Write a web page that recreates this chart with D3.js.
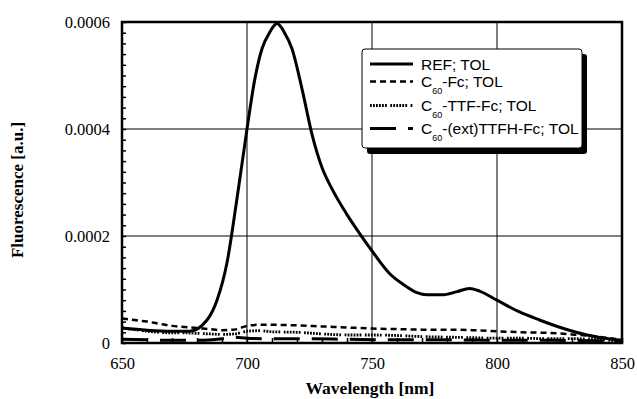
<!DOCTYPE html>
<html>
<head>
<meta charset="utf-8">
<script src="https://cdn.jsdelivr.net/npm/d3@7"></script>
<style>
  body { margin: 0; background: #fff; }
  svg { display: block; }
</style>
</head>
<body>
<svg id="chart" width="637" height="399"></svg>
<script>
// wavelength [nm] / fluorescence [a.u.]
const refWl = [650, 660, 670, 677, 684, 688, 692, 696, 700, 703, 706, 709, 712, 715, 718, 722, 726, 730, 734, 740, 745, 750, 757, 763, 768, 772, 778, 784, 789, 793, 800, 809, 817, 826, 836, 846, 850];
const refVal = [0.000028, 0.000024, 0.000022, 0.000022, 0.000043, 0.00008, 0.00015, 0.00027, 0.0004, 0.00049, 0.00055, 0.00058, 0.000597, 0.00058, 0.00055, 0.000475, 0.00039, 0.000328, 0.000288, 0.00024, 0.000205, 0.000172, 0.00013, 0.000108, 0.000094, 0.00009, 0.00009, 0.000096, 0.000102, 0.000097, 0.00008, 0.000058, 0.000043, 0.000028, 0.000015, 0.000007, 0.000005];

const lowWl = [650, 655, 660, 665, 670, 675, 680, 685, 690, 695, 700, 705, 710, 720, 730, 740, 750, 760, 770, 780, 790, 800, 810, 820, 830, 840, 845, 850];
const fcVal = [0.000046, 0.000043, 0.00004, 0.000036, 0.000032, 0.00003, 0.000028, 0.000026, 0.000024, 0.000025, 0.000032, 0.000034, 0.000034, 0.000033, 0.000031, 0.000029, 0.000027, 0.000026, 0.000025, 0.000025, 0.000024, 0.000022, 0.00002, 0.000019, 0.000016, 0.000012, 0.000009, 0.000006];
const ttfVal = [0.000028, 0.000025, 0.000022, 0.00002, 0.000019, 0.000019, 0.000018, 0.000017, 0.000016, 0.000017, 0.000022, 0.000023, 0.000021, 0.00002, 0.000017, 0.000015, 0.000015, 0.000014, 0.000012, 0.000011, 0.00001, 0.000009, 0.000009, 0.000008, 0.000008, 0.000007, 0.000005, 0.000003];

const extWl = [650, 660, 670, 680, 690, 695, 700, 710, 720, 740, 760, 780, 800, 820, 840, 850];
const extVal = [0.000007, 0.000006, 0.000005, 0.000005, 0.000008, 0.000011, 0.000009, 0.000008, 0.000008, 0.000007, 0.000006, 0.000006, 0.000005, 0.000005, 0.000004, 0.000003];

const xTicks = [650, 700, 750, 800, 850];
const yTicks = [0, 0.0002, 0.0004, 0.0006];
const yTickLabels = ["0", "0.0002", "0.0004", "0.0006"];

const svg = d3.select("#chart");
const plotL = 122, plotR = 622, plotT = 22, plotB = 343;

const x = d3.scaleLinear().domain([650, 850]).range([plotL, plotR]);
const y = d3.scaleLinear().domain([0, 0.0006]).range([plotB, plotT]);

// grid
const grid = svg.append("g").attr("stroke", "#000").attr("stroke-width", 1);
grid.selectAll("line.v")
  .data(xTicks.slice(1, -1))
  .enter().append("line")
    .attr("x1", d => x(d)).attr("x2", d => x(d))
    .attr("y1", plotT).attr("y2", plotB);
grid.selectAll("line.h")
  .data(yTicks.slice(1, -1))
  .enter().append("line")
    .attr("x1", plotL).attr("x2", plotR)
    .attr("y1", d => y(d)).attr("y2", d => y(d));

// minor ticks, inside
svg.append("g")
    .attr("transform", `translate(${plotL},0)`)
    .call(d3.axisLeft(y).tickValues(d3.range(0, 0.00061, 0.00002)).tickSize(-4).tickFormat(""))
    .call(g => g.select(".domain").remove())
    .call(g => g.selectAll("line").attr("stroke-width", 1.5));
svg.append("g")
    .attr("transform", `translate(0,${plotB})`)
    .call(d3.axisBottom(x).tickValues(d3.range(650, 851, 10)).tickSize(-5).tickFormat(""))
    .call(g => g.select(".domain").remove())
    .call(g => g.selectAll("line").attr("stroke-width", 1.5));

// tick labels
svg.append("g")
    .attr("transform", `translate(${plotL},0)`)
    .call(d3.axisLeft(y).tickValues(yTicks).tickSize(0).tickPadding(12).tickFormat((d, i) => yTickLabels[i]))
    .call(g => g.select(".domain").remove())
    .call(g => g.selectAll("text").attr("font-family", "Liberation Serif, serif").attr("font-size", 16.5).attr("fill", "#000"));
svg.append("g")
    .attr("transform", `translate(0,${plotB})`)
    .call(d3.axisBottom(x).tickValues(xTicks).tickSize(0).tickPadding(14).tickFormat(d3.format("d")))
    .call(g => g.select(".domain").remove())
    .call(g => g.selectAll("text").attr("font-family", "Liberation Serif, serif").attr("font-size", 16.5).attr("fill", "#000"));

// series
const series = [
  { name: "REF", wl: refWl, val: refVal, dash: null, width: 3 },
  { name: "Fc", wl: lowWl, val: fcVal, dash: "6,4", width: 2.5 },
  { name: "TTF", wl: lowWl, val: ttfVal, dash: "1.8,1.2,1.8,1.2,1.8,1.2,1.8,1.2,1.8,1.2,1.8,3.5", width: 2.8 },
  { name: "ext", wl: extWl, val: extVal, dash: "26,12", width: 3 }
];

const line = d3.line()
    .x(d => x(d[0]))
    .y(d => y(d[1]))
    .curve(d3.curveMonotoneX);

svg.append("g")
  .selectAll("path")
  .data(series)
  .enter().append("path")
    .attr("d", s => line(s.wl.map((w, i) => [w, s.val[i]])))
    .attr("fill", "none")
    .attr("stroke", "#000")
    .attr("stroke-width", s => s.width)
    .attr("stroke-dasharray", s => s.dash)
    .attr("stroke-linejoin", "round");

// frame
svg.append("rect")
    .attr("x", plotL).attr("y", plotT)
    .attr("width", plotR - plotL).attr("height", plotB - plotT)
    .attr("fill", "none").attr("stroke", "#000").attr("stroke-width", 2.5);

// legend
const lg = svg.append("g");
lg.append("rect")
    .attr("x", 367).attr("y", 54).attr("width", 220).attr("height", 100)
    .attr("rx", 3).attr("fill", "#000");
lg.append("rect")
    .attr("x", 362).attr("y", 49).attr("width", 220).attr("height", 99)
    .attr("rx", 3).attr("fill", "#fff").attr("stroke", "#000").attr("stroke-width", 1);

const legendRows = [
  { parts: ["REF; TOL"], base: 69.5 },
  { parts: ["C", "60", "-Fc; TOL"], base: 87 },
  { parts: ["C", "60", "-TTF-Fc; TOL"], base: 111 },
  { parts: ["C", "60", "-(ext)TTFH-Fc; TOL"], base: 134 }
];

legendRows.forEach((r, i) => {
  const s = series[i];
  lg.append("line")
      .attr("x1", 370).attr("x2", 413)
      .attr("y1", r.base - 5.5).attr("y2", r.base - 5.5)
      .attr("stroke", "#000")
      .attr("stroke-width", s.width)
      .attr("stroke-dasharray", s.dash);
  const t = lg.append("text")
      .attr("x", 421).attr("y", r.base)
      .attr("font-family", "Liberation Sans, Arial, sans-serif")
      .attr("font-size", 15.5);
  if (r.parts.length === 1) {
    t.text(r.parts[0]);
  } else {
    t.append("tspan").text(r.parts[0]);
    t.append("tspan").attr("dy", 7).attr("font-size", 9).text(r.parts[1]);
    t.append("tspan").attr("dy", -7).text(r.parts[2]);
  }
});

// axis titles
svg.append("text")
    .attr("x", 370).attr("y", 394)
    .attr("text-anchor", "middle")
    .attr("font-family", "Liberation Serif, serif")
    .attr("font-weight", "bold")
    .attr("font-size", 17.5)
    .text("Wavelength [nm]");
svg.append("text")
    .attr("transform", "translate(23,190) rotate(-90)")
    .attr("text-anchor", "middle")
    .attr("font-family", "Liberation Serif, serif")
    .attr("font-weight", "bold")
    .attr("font-size", 17)
    .text("Fluorescence [a.u.]");
</script>
</body>
</html>
